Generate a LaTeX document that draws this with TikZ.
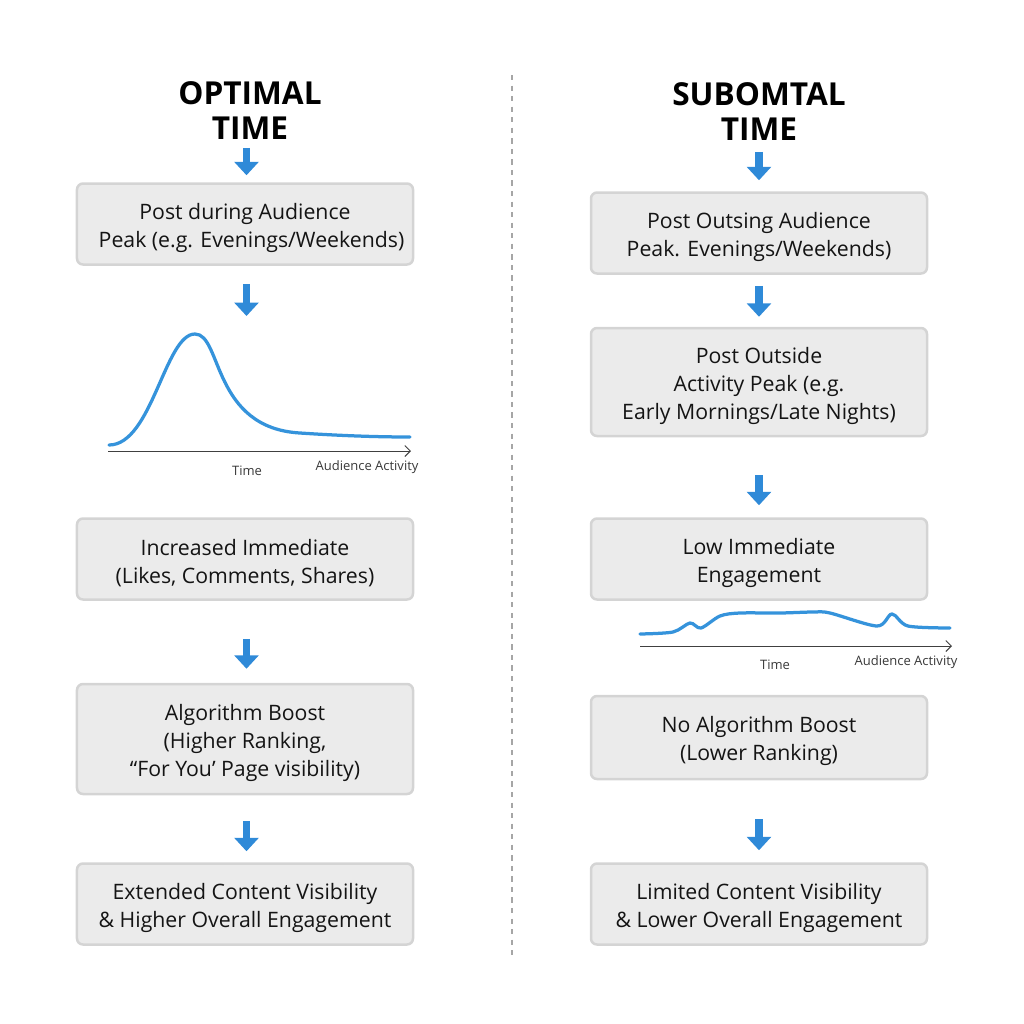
\documentclass[tikz,border=0pt]{standalone}
\usepackage{fontspec}
\setmainfont{Open Sans}
\usetikzlibrary{arrows.meta,positioning}
\newcommand{\lift}{\rule{0pt}{13.5pt}}

\begin{document}
\begin{tikzpicture}[x=0.2mm,y=-0.2mm,
        box/.style = {draw=black!17, fill=black!8, line width=0.5mm, rounded corners=1.2mm, minimum width=67.2mm, align=center, font=\fontsize{12.1}{15.9}\selectfont, text=black!92, inner sep=0pt},
        heading/.style = {align=center, font=\fontsize{18}{20}\selectfont\bfseries, inner sep=0pt},
        flow/.style = {draw=arrowblue, line width=1.5mm, -{Triangle[length=2.7mm,width=4.8mm]}},
        leftflow/.style = {flow, transform canvas={xshift=0.3mm}},
        curve/.style = {draw=curveblue, line width=0.65mm, line cap=round},
        axis/.style = {draw=black!75, line width=0.2mm, -{Straight Barb[length=1.1mm,width=2.2mm]}},
        small/.style = {font=\fontsize{7.4}{8}\selectfont, text=black!78, inner sep=0pt},]
        \definecolor{arrowblue}{HTML}{2F8AD8}
        \definecolor{curveblue}{HTML}{3593DB}
        \useasboundingbox (0,0) rectangle (1024,1024);

        \coordinate (d1) at (512,75);
        \coordinate (d2) at (512,957);
        \draw[black!35, line width=0.25mm, dashed] (d1) -- (d2);

        \node[heading] (t1) at (250,110.5) {OPTIMAL\\TIME};
        \node[box, minimum height=16.2mm] (b1) at (245,224) {\lift Post during Audience\\\hspace*{2.6mm}Peak (e.g. Evenings/Weekends)};
        \node[box, minimum height=16.2mm] (b3) at (245,559) {\lift Increased Immediate\\(Likes, Comments, Shares)};
        \node[box, minimum height=22mm] (b4) at (245,739) {\lift Algorithm Boost\\(Higher Ranking,\\``For You' Page visibility)};
        \node[box, minimum height=16.2mm] (b5) at (245,904) {\lift Extended Content Visibility\\\& Higher Overall Engagement};

        \node[heading] (t2) at (759,111.5) {SUBOMTAL\\TIME};
        \node[box, minimum height=16.2mm] (c1) at (759,233) {\lift Post Outsing Audience\\Peak. Evenings/Weekends)};
        \node[box, minimum height=21.6mm] (c2) at (759,382) {\lift Post Outside\\Activity Peak (e.g.\\Early Mornings/Late Nights)};
        \node[box, minimum height=16.2mm] (c3) at (759,559) {\lift Low Immediate\\Engagement};
        \node[box, minimum height=16.6mm] (c4) at (759,737.5) {\lift No Algorithm Boost\\(Lower Ranking)};
        \node[box, minimum height=16.2mm] (c5) at (759,904) {\lift Limited Content Visibility\\\& Lower Overall Engagement};

        \coordinate (p1) at (245,316);
        \coordinate (a1) at (108,451);
        \coordinate (a2) at (411,451);
        \coordinate (a3) at (640,646);
        \coordinate (a4) at (952,646);

        \draw[leftflow, shorten <=1.6mm, shorten >=1.4mm] (t1.south -| b1.north) -- (b1.north);
        \draw[leftflow, shorten <=3.6mm] (b1.south) -- (p1);
        \draw[leftflow, shorten <=7.6mm, shorten >=2.8mm] (b3.south) -- (b4.north);
        \draw[leftflow, shorten <=5.2mm, shorten >=2.2mm] (b4.south) -- (b5.north);

        \draw[flow, shorten <=2.2mm, shorten >=2.2mm] (t2.south -| c1.north) -- (c1.north);
        \draw[flow, shorten <=2.2mm, shorten >=2mm] (c1.south) -- (c2.north);
        \draw[flow, shorten <=7.6mm, shorten >=2.4mm] (c2.south) -- (c3.north);
        \draw[flow, shorten <=7.8mm, shorten >=2.4mm] (c4.south) -- (c5.north);

        \draw[curve] (109,445) .. controls (152,445) and (165,334) .. (195,334) .. controls (222,334) and (212,428) .. (300,433) .. controls (330,435) and (370,437) .. (410,437);
        \draw[axis] (a1) -- (a2);
        \node[small] (x1) at (247,471) {Time};
        \node[small] (y1) at (367,467) {Audience Activity};

        \draw[curve] plot[smooth, tension=0.5] coordinates {(640,634) (673,632) (690,623) (701,628) (720,616) (740,613) (780,613) (813,612) (830,613) (877,626) (892,614) (908,626) (950,628)};
        \draw[axis] (a3) -- (a4);
        \node[small] (x2) at (775,665) {Time};
        \node[small] (y2) at (906,662) {Audience Activity};

\end{tikzpicture}
\end{document}
